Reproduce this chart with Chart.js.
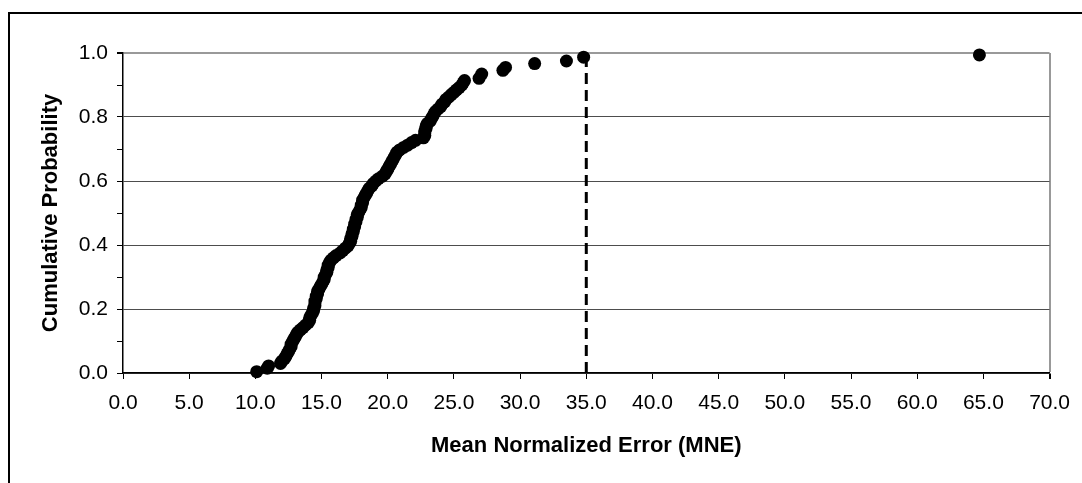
<!DOCTYPE html>
<html>
<head>
<meta charset="utf-8">
<script src="https://cdn.jsdelivr.net/npm/chart.js@4/dist/chart.umd.min.js"></script>
<style>
  html, body { margin: 0; padding: 0; background: #fff; }
  canvas { display: block; }
</style>
</head>
<body>
<canvas id="cdf" width="1082" height="483"></canvas>
<script>
// values
const mneValues = [10.1, 10.9, 11.0, 11.9, 12.0, 12.2, 12.3, 12.4, 12.5, 12.6,
  12.7, 12.7, 12.8, 12.9, 13.0, 13.1, 13.2, 13.4, 13.6, 13.8,
  14.0, 14.1, 14.1, 14.2, 14.3, 14.4, 14.4, 14.5, 14.5, 14.5,
  14.6, 14.6, 14.7, 14.7, 14.8, 14.9, 15.0, 15.1, 15.2, 15.2,
  15.3, 15.4, 15.4, 15.5, 15.5, 15.6, 15.7, 15.9, 16.1, 16.4,
  16.6, 16.8, 17.0, 17.1, 17.2, 17.2, 17.3, 17.3, 17.4, 17.4,
  17.5, 17.5, 17.6, 17.6, 17.7, 17.7, 17.8, 17.9, 18.0, 18.0,
  18.1, 18.1, 18.2, 18.3, 18.4, 18.5, 18.6, 18.8, 18.9, 19.1,
  19.3, 19.6, 19.8, 19.9, 20.0, 20.1, 20.2, 20.3, 20.4, 20.5,
  20.6, 20.7, 20.9, 21.2, 21.5, 21.8, 22.1, 22.7, 22.8, 22.8,
  22.8, 22.9, 22.9, 23.0, 23.2, 23.3, 23.4, 23.5, 23.6, 23.8,
  24.0, 24.1, 24.3, 24.4, 24.6, 24.8, 25.0, 25.2, 25.4, 25.6,
  25.7, 25.8, 26.9, 27.1, 28.7, 28.9, 31.1, 33.5, 34.8, 64.7];
const cumProb = [0.004, 0.015, 0.022, 0.030, 0.037, 0.045, 0.052, 0.060, 0.067, 0.075,
  0.082, 0.090, 0.097, 0.105, 0.112, 0.120, 0.127, 0.135, 0.142, 0.150,
  0.157, 0.165, 0.172, 0.180, 0.187, 0.195, 0.202, 0.210, 0.217, 0.225,
  0.232, 0.240, 0.247, 0.255, 0.262, 0.270, 0.277, 0.285, 0.292, 0.300,
  0.307, 0.315, 0.322, 0.330, 0.337, 0.345, 0.352, 0.360, 0.367, 0.375,
  0.382, 0.390, 0.397, 0.405, 0.412, 0.420, 0.427, 0.435, 0.442, 0.450,
  0.457, 0.465, 0.472, 0.480, 0.487, 0.495, 0.502, 0.510, 0.517, 0.525,
  0.532, 0.540, 0.547, 0.555, 0.562, 0.570, 0.577, 0.585, 0.592, 0.600,
  0.607, 0.615, 0.622, 0.630, 0.637, 0.645, 0.652, 0.660, 0.667, 0.675,
  0.682, 0.690, 0.697, 0.705, 0.712, 0.720, 0.727, 0.735, 0.742, 0.750,
  0.757, 0.765, 0.772, 0.780, 0.787, 0.795, 0.802, 0.810, 0.817, 0.825,
  0.832, 0.840, 0.847, 0.855, 0.862, 0.870, 0.877, 0.885, 0.892, 0.900,
  0.907, 0.914, 0.921, 0.934, 0.946, 0.955, 0.967, 0.975, 0.987, 0.994];
// dashed marker line at MNE = 35
const cutoffX = [35.0, 35.0];
const cutoffY = [0.0, 0.985];

const xTitle = 'Mean Normalized Error (MNE)';
const yTitle = 'Cumulative Probability';

const FONT = "'Liberation Sans', Arial, sans-serif";

// outer chart frame (left and top edges are the only ones in view)
const frame = {
  id: 'frame',
  afterDraw(chart) {
    const ctx = chart.ctx;
    ctx.save();
    ctx.strokeStyle = '#000';
    ctx.lineWidth = 2;
    ctx.beginPath();
    ctx.moveTo(9, 483);
    ctx.lineTo(9, 13);
    ctx.lineTo(1082, 13);
    ctx.stroke();
    ctx.restore();
  }
};

new Chart(document.getElementById('cdf'), {
  type: 'scatter',
  data: {
    datasets: [
      {
        data: cutoffX.map((x, i) => ({x, y: cutoffY[i]})),
        showLine: true,
        borderColor: '#000',
        borderWidth: 3,
        borderDash: [11, 6],
        pointRadius: 0,
        clip: false,
      },
      {
        data: mneValues.map((x, i) => ({x, y: cumProb[i]})),
        backgroundColor: '#000',
        borderColor: '#000',
        borderWidth: 0,
        pointRadius: 6.5,
        pointHoverRadius: 6.5,
        clip: false,
      },
    ]
  },
  options: {
    responsive: false,
    animation: false,
    events: [],
    layout: { padding: { left: 10, top: 53, right: 30, bottom: 0 } },
    plugins: { legend: { display: false }, tooltip: { enabled: false } },
    scales: {
      x: {
        type: 'linear',
        min: 0, max: 70,
        afterFit: s => { s.height = 110; },
        ticks: {
          stepSize: 5,
          color: '#000',
          padding: 12,
          maxRotation: 0,
          font: { family: FONT, size: 21 },
          callback: v => v.toFixed(1),
        },
        grid: {
          color: c => c.tick && c.tick.value === 70 ? '#999' : 'rgba(0,0,0,0)',
          lineWidth: c => c.tick && c.tick.value === 70 ? 2 : 1,
          tickColor: '#000',
          tickLength: 6,
        },
        border: { color: '#000', width: 1.5 },
        title: {
          display: true,
          text: xTitle,
          color: '#000',
          font: { family: FONT, size: 22, weight: 'bold' },
          padding: { top: 0, bottom: 24 },
        },
      },
      y: {
        min: 0, max: 1,
        afterFit: s => { s.width = 113; },
        ticks: {
          stepSize: 0.1,
          color: '#000',
          padding: 9,
          font: { family: FONT, size: 21 },
          callback: v => (Math.round(v * 10) % 2 === 0 ? v.toFixed(1) : ''),
        },
        grid: {
          color: c => {
            const k = Math.round(c.tick.value * 10);
            if (k === 10) return '#999';
            return k % 2 === 0 ? '#4d4d4d' : 'rgba(0,0,0,0)';
          },
          lineWidth: c => Math.round(c.tick.value * 10) === 10 ? 2 : 1,
          tickColor: '#000',
          tickLength: 6,
        },
        border: { color: '#000', width: 1.5 },
        title: {
          display: true,
          text: yTitle,
          color: '#000',
          font: { family: FONT, size: 22, weight: 'bold' },
          padding: { top: 28, bottom: 0 },
        },
      }
    }
  },
  plugins: [frame]
});
</script>
</body>
</html>
